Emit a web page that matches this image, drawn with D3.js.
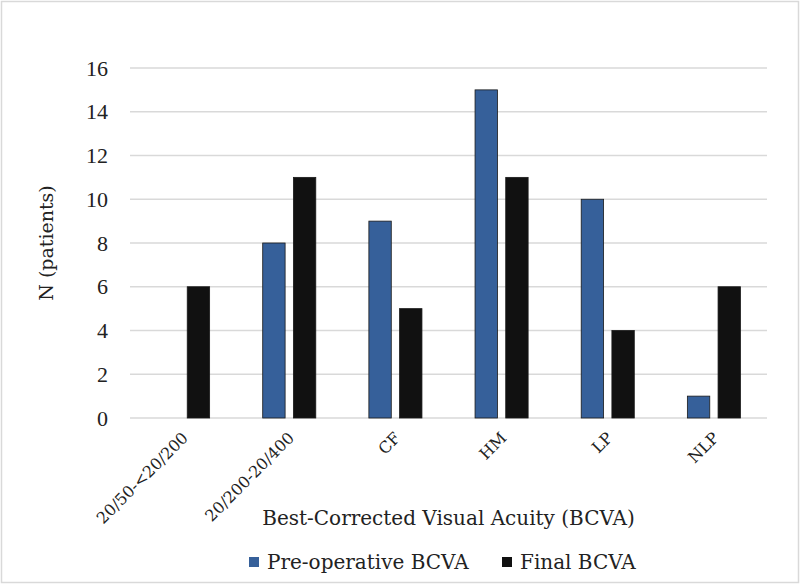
<!DOCTYPE html>
<html>
<head>
<meta charset="utf-8">
<script src="https://cdn.jsdelivr.net/npm/d3@7"></script>
<style>
    body { margin: 0; background: #fff; }
    svg { display: block; }
    text { font-family: "DejaVu Serif", serif; fill: #222; }
</style>
</head>
<body>
<svg width="800" height="584"></svg>
<script>
    // dados
    var categorias = ["20/50-<20/200", "20/200-20/400", "CF", "HM", "LP", "NLP"];
    var series = ["Pre-operative BCVA", "Final BCVA"];
    var preOp = [0, 8, 9, 15, 10, 1];
    var finalBcva = [6, 11, 5, 11, 4, 6];
    var ticksY = [0, 2, 4, 6, 8, 10, 12, 14, 16];
    var cores = ["#36609a", "#111111"];

    var svg = d3.select("svg"),
        width = +svg.attr("width"),
        height = +svg.attr("height");

    var margem = { top: 68, right: 33, bottom: 166, left: 130 };

    // moldura externa
    svg.append("rect")
        .attr("x", 1.5).attr("y", 1.5)
        .attr("width", width - 3).attr("height", height - 3)
        .attr("fill", "#fff")
        .attr("stroke", "#d9d9d9")
        .attr("stroke-width", 1.5);

    var dados = categorias.map(function (c, i) {
        return { cat: c, valores: [preOp[i], finalBcva[i]] };
    });

    var x0 = d3.scaleBand()
        .domain(categorias)
        .range([margem.left, width - margem.right])
        .paddingInner(0.5)
        .paddingOuter(0.25);

    var x1 = d3.scaleBand()
        .domain(d3.range(series.length))
        .range([0, x0.bandwidth()])
        .paddingInner(0.27);

    var y = d3.scaleLinear()
        .domain([0, 16])
        .range([height - margem.bottom, margem.top]);

    // linhas de grade
    svg.append("g")
        .selectAll("line")
        .data(ticksY)
        .enter().append("line")
        .attr("x1", margem.left)
        .attr("x2", width - margem.right)
        .attr("y1", function (d) { return y(d); })
        .attr("y2", function (d) { return y(d); })
        .attr("stroke", "#d9d9d9")
        .attr("stroke-width", 1.5);

    // eixo y
    var eixoY = svg.append("g")
        .attr("transform", "translate(" + (margem.left - 22) + ",0)")
        .call(d3.axisLeft(y).tickValues(ticksY).tickSize(0).tickPadding(0));
    eixoY.select(".domain").remove();
    eixoY.selectAll("text")
        .style("font-family", "Liberation Serif, serif")
        .style("font-size", "22px")
        .attr("fill", "#222");

    // barras
    var grupo = svg.append("g")
        .selectAll("g")
        .data(dados)
        .enter().append("g")
        .attr("transform", function (d) { return "translate(" + x0(d.cat) + ",0)"; });

    grupo.selectAll("rect")
        .data(function (d) { return d.valores.map(function (v, i) { return { i: i, v: v }; }); })
        .enter().filter(function (d) { return d.v > 0; }).append("rect")
        .attr("x", function (d) { return x1(d.i); })
        .attr("y", function (d) { return y(d.v); })
        .attr("width", x1.bandwidth())
        .attr("height", function (d) { return y(0) - y(d.v); })
        .attr("fill", function (d) { return cores[d.i]; })
        .attr("stroke", "#1a1a1a")
        .attr("stroke-width", 0.8);

    // eixo x (rotulos girados)
    var eixoX = svg.append("g")
        .attr("transform", "translate(2," + (y(0) + 17) + ")")
        .call(d3.axisBottom(x0).tickSize(0).tickPadding(0));
    eixoX.select(".domain").remove();
    eixoX.selectAll("text")
        .style("font-family", "DejaVu Serif, serif")
        .style("font-size", "16px")
        .attr("fill", "#222")
        .attr("dy", "0.35em")
        .attr("text-anchor", "end")
        .attr("transform", "rotate(-45)");

    // titulos dos eixos
    svg.append("text")
        .attr("x", (margem.left + width - margem.right) / 2)
        .attr("y", 525)
        .attr("text-anchor", "middle")
        .style("font-size", "20px")
        .text("Best-Corrected Visual Acuity (BCVA)");

    svg.append("text")
        .attr("transform", "translate(53," + ((y(0) + y(16)) / 2) + ") rotate(-90)")
        .attr("text-anchor", "middle")
        .style("font-size", "19px")
        .text("N (patients)");

    // legenda
    var legX = [249, 502];
    var leg = svg.append("g")
        .selectAll("g")
        .data(series)
        .enter().append("g")
        .attr("transform", function (d, i) { return "translate(" + legX[i] + ",557)"; });

    leg.append("rect")
        .attr("width", 10).attr("height", 10)
        .attr("fill", function (d, i) { return cores[i]; });

    leg.append("text")
        .attr("x", 18)
        .attr("y", 12)
        .style("font-size", "20px")
        .text(function (d) { return d; });
</script>
</body>
</html>
